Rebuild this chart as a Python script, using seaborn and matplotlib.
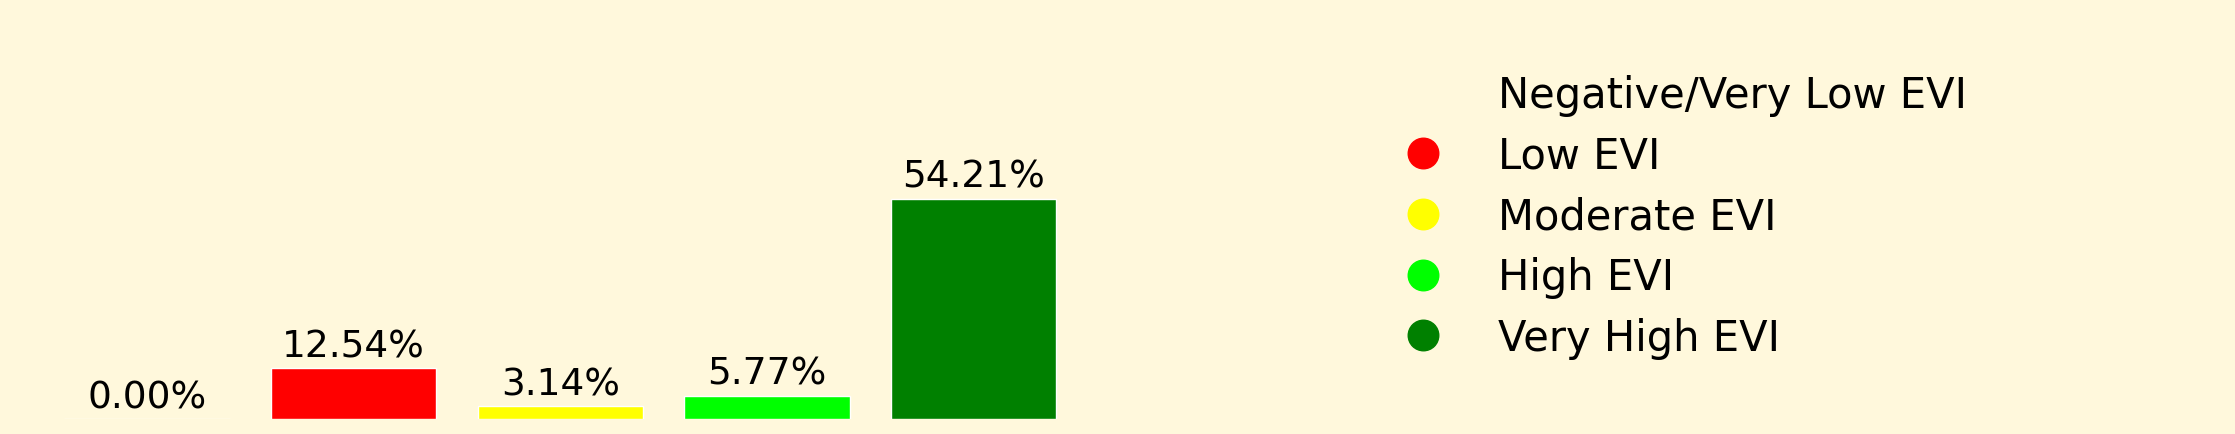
import matplotlib
matplotlib.use("Agg")
import matplotlib.pyplot as plt
from matplotlib.lines import Line2D
import pandas as pd
import seaborn as sns

# data
categories = ["Negative/Very Low EVI", "Low EVI", "Moderate EVI", "High EVI", "Very High EVI"]
percentages = [0.00, 12.54, 3.14, 5.77, 54.21]
colors = ["#FFF8DC", "red", "yellow", "lime", "green"]
bg = "#FFF8DC"

sns.set_theme(style="white")
plt.rcParams["font.family"] = ["DejaVu Sans"]
plt.rcParams["text.color"] = "black"

data = pd.DataFrame({"category": categories, "percent": percentages})

fig = plt.figure(figsize=(22.35, 4.35), dpi=100, facecolor=bg)
ax = fig.add_axes([0.0195, 0.034, 0.4623, 0.935])
ax.set_facecolor(bg)

sns.barplot(data=data, x="category", y="percent", hue="category",
            palette=colors, order=categories, hue_order=categories,
            width=0.8, legend=False, ax=ax, saturation=1)

for cont, val in zip(ax.containers, percentages):
    ax.bar_label(cont, labels=[f"{val:.2f}%"], fontsize=27, padding=3, color="black")

ax.set_ylim(0, 100)
ax.axis("off")

# legend with round markers
handles = [Line2D([0], [0], marker="o", linestyle="", markersize=22,
                  markerfacecolor=c, markeredgecolor=c) for c in colors]
leg = fig.legend(handles, categories, loc="upper left", bbox_to_anchor=(0.6107, 0.866),
                 bbox_transform=fig.transFigure, borderaxespad=0, frameon=False,
                 fontsize=30, labelspacing=0.45)
for t in leg.get_texts():
    t.set_color("black")

fig.savefig("out.png", dpi=100, facecolor=bg)
